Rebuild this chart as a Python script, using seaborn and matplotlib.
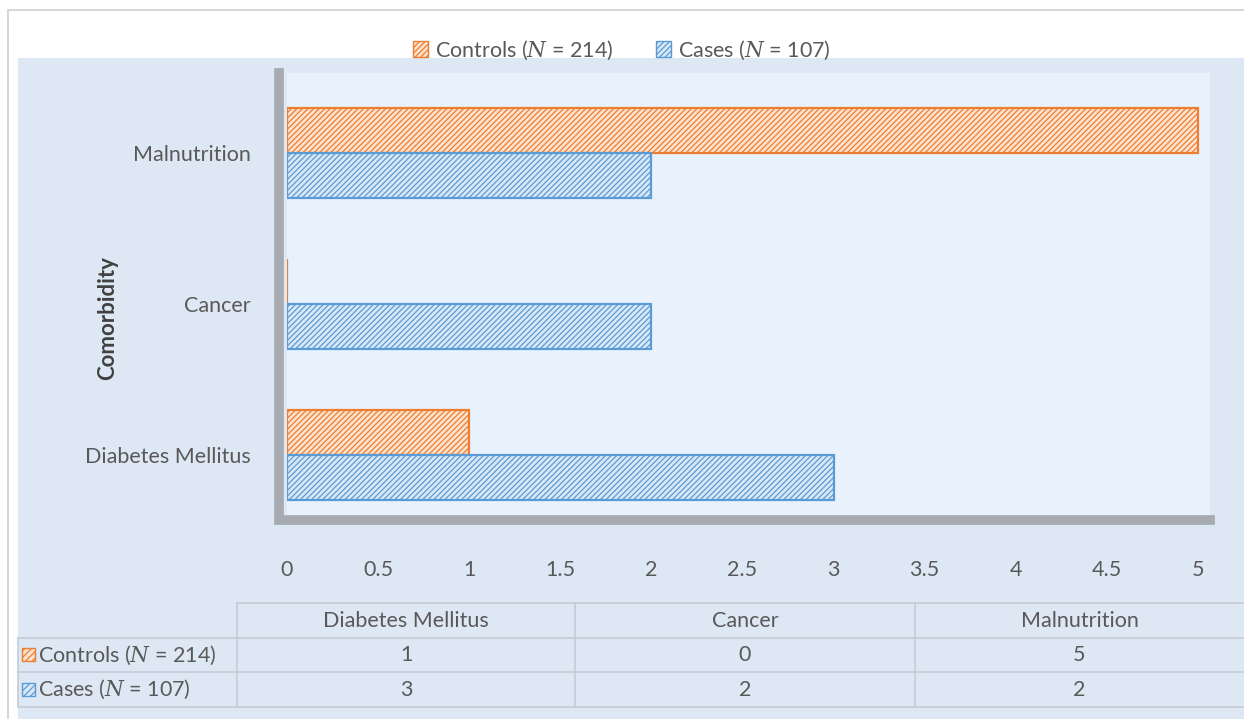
import numpy as np
import pandas as pd
import matplotlib
matplotlib.use("Agg")
import matplotlib.pyplot as plt
import seaborn as sns
from matplotlib.patches import Rectangle, Patch
from matplotlib.lines import Line2D

# Comorbidity counts per group
categories = ["Diabetes Mellitus", "Cancer", "Malnutrition"]
series_names = [r"Controls ($N$ = 214)", r"Cases ($N$ = 107)"]
controls = [1, 0, 5]
cases = [3, 2, 2]
x_ticks = [0, 0.5, 1, 1.5, 2, 2.5, 3, 3.5, 4, 4.5, 5]

face_colors = ["#fde2cd", "#d9e8f6"]
edge_colors = ["#ed7d31", "#5b9bd5"]
text_color = "#595959"
fs = 15.5

sns.set_theme(style="white")
plt.rcParams["font.family"] = ["Lato", "DejaVu Sans"]
plt.rcParams["mathtext.fontset"] = "dejavuserif"
plt.rcParams["hatch.linewidth"] = 0.9

W, H = 1244, 719


def box(x0, y0, x1, y1):
    return [x0 / W, 1 - y1 / H, (x1 - x0) / W, (y1 - y0) / H]


fig = plt.figure(figsize=(W / 100, H / 100), dpi=100, facecolor="white")

# chart area background and outer frame
fig.patches.append(Rectangle((18 / W, 0), (W - 18) / W, (H - 58) / H,
                             transform=fig.transFigure, facecolor="#dde8f4",
                             edgecolor="none", zorder=-10))
fig.add_artist(Line2D([8 / W, 8 / W], [0, 1 - 10 / H], color="#d0d0d0", lw=1.2))
fig.add_artist(Line2D([8 / W, 1], [1 - 10 / H, 1 - 10 / H], color="#d0d0d0", lw=1.2))

# long-form frame, plotted top to bottom in reverse table order
plot_order = categories[::-1]
df = pd.DataFrame({
    "Comorbidity": categories * 2,
    "Group": [series_names[0]] * len(categories) + [series_names[1]] * len(categories),
    "Count": controls + cases,
})

ax = fig.add_axes(box(287, 73, 1210, 520))
ax.set_facecolor("#e8f2fc")
sns.barplot(data=df, x="Count", y="Comorbidity", hue="Group", order=plot_order,
            hue_order=series_names, palette=face_colors, width=0.6, saturation=1,
            legend=False, ax=ax)
for container, ec in zip(ax.containers, edge_colors):
    for bar in container:
        bar.set_edgecolor(ec)
        bar.set_linewidth(1.6)
        bar.set_hatch("//////")
        bar.set_zorder(3)

ax.set_xlim(0, 5.066)
ax.set_ylim(2.43, -0.53)
ax.set_xticks(x_ticks)
ax.set_xticklabels([f"{t:g}" for t in x_ticks])
ax.tick_params(axis="x", length=0, pad=29, labelsize=fs, labelcolor=text_color)
ax.tick_params(axis="y", length=0, pad=20, labelsize=fs, labelcolor=text_color)
ax.set_xlabel("")
ax.set_ylabel("")
for side in ["top", "right"]:
    ax.spines[side].set_visible(False)
for side in ["left", "bottom"]:
    ax.spines[side].set_color("#a6abb1")
    ax.spines[side].set_linewidth(7)
    ax.spines[side].set_zorder(1)
ax.spines["left"].set_position(("outward", 6))

fig.text(108 / W, 1 - 318 / H, "Comorbidity", rotation=90, weight="bold",
         ha="center", va="center", fontsize=16, color="#404040")

# legend
handles = [Patch(facecolor=fc, edgecolor=ec, hatch="//////", label=name)
           for fc, ec, name in zip(face_colors, edge_colors, series_names)]
fig.legend(handles=handles, loc="center", bbox_to_anchor=(622 / W, 1 - 50 / H),
           ncol=2, frameon=False, fontsize=fs, handlelength=0.7, handleheight=0.7,
           handletextpad=0.3, columnspacing=2.0, labelcolor=text_color)

# data table below the chart
tax = fig.add_axes(box(18, 603, 1244, 707))
tax.set_xlim(18, 1244)
tax.set_ylim(707, 603)
tax.axis("off")
col_edges = [18, 237, 575, 915, 1244]
row_edges = [603, 638, 672, 707]
grid = "#c3ccd6"
tax.plot([237, 1244], [603, 603], color=grid, lw=1.2, clip_on=False)
for y in row_edges[1:]:
    tax.plot([18, 1244], [y, y], color=grid, lw=1.2, clip_on=False)
tax.plot([18, 18], [638, 707], color=grid, lw=1.2, clip_on=False)
for x in col_edges[1:-1]:
    tax.plot([x, x], [603, 707], color=grid, lw=1.2, clip_on=False)

centers = [(col_edges[i] + col_edges[i + 1]) / 2 for i in range(1, 4)]
for cx, name in zip(centers, categories):
    tax.text(cx, 621, name, ha="center", va="center", fontsize=fs, color=text_color)

for r, (name, vals, fc, ec) in enumerate(zip(series_names, [controls, cases],
                                            face_colors, edge_colors)):
    cy = (row_edges[r + 1] + row_edges[r + 2]) / 2
    tax.add_patch(Rectangle((22, cy - 7), 13, 13, facecolor=fc, edgecolor=ec,
                            hatch="/////", lw=1.0, clip_on=False))
    tax.text(38, cy, name, ha="left", va="center", fontsize=fs, color=text_color)
    for cx, v in zip(centers, vals):
        tax.text(cx, cy, f"{v}", ha="center", va="center", fontsize=fs, color=text_color)

fig.savefig("out.png", dpi=100, facecolor=fig.get_facecolor())
